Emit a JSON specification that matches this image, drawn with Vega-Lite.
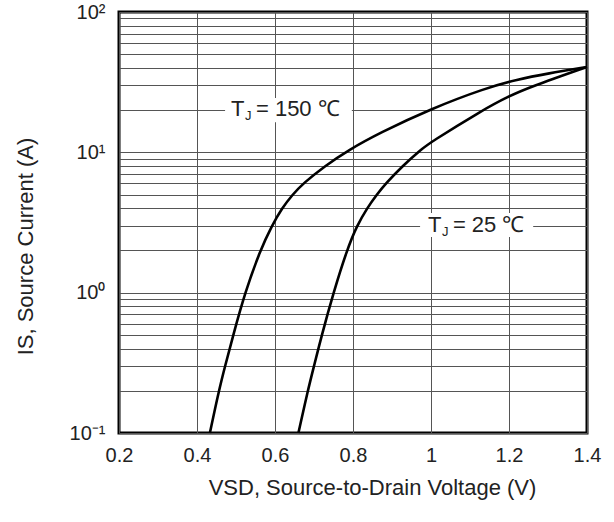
{
  "$schema": "https://vega.github.io/schema/vega-lite/v6.json",
  "width": 468,
  "height": 421,
  "autosize": {"type": "none"},
  "padding": {"left": 119, "top": 12, "right": 27, "bottom": 89},
  "background": "white",
  "view": {"stroke": "black", "strokeWidth": 3},
  "config": {"font": "Liberation Sans"},
  "datasets": {
    "curves": [
      {"V": 0.433, "I": 0.1, "T": "150"},
      {"V": 0.456, "I": 0.2, "T": "150"},
      {"V": 0.472, "I": 0.3, "T": "150"},
      {"V": 0.493, "I": 0.5, "T": "150"},
      {"V": 0.523, "I": 1.0, "T": "150"},
      {"V": 0.562, "I": 2.0, "T": "150"},
      {"V": 0.592, "I": 3.0, "T": "150"},
      {"V": 0.618, "I": 4.0, "T": "150"},
      {"V": 0.645, "I": 5.0, "T": "150"},
      {"V": 0.672, "I": 6.0, "T": "150"},
      {"V": 0.728, "I": 8.0, "T": "150"},
      {"V": 0.789, "I": 10.4, "T": "150"},
      {"V": 0.867, "I": 13.7, "T": "150"},
      {"V": 0.999, "I": 20.4, "T": "150"},
      {"V": 1.14, "I": 28.7, "T": "150"},
      {"V": 1.22, "I": 33.0, "T": "150"},
      {"V": 1.3, "I": 36.5, "T": "150"},
      {"V": 1.4, "I": 40.6, "T": "150"},
      {"V": 0.66, "I": 0.1, "T": "25"},
      {"V": 0.684, "I": 0.2, "T": "25"},
      {"V": 0.7, "I": 0.3, "T": "25"},
      {"V": 0.72, "I": 0.5, "T": "25"},
      {"V": 0.75, "I": 1.0, "T": "25"},
      {"V": 0.784, "I": 2.0, "T": "25"},
      {"V": 0.81, "I": 3.0, "T": "25"},
      {"V": 0.836, "I": 4.0, "T": "25"},
      {"V": 0.861, "I": 5.0, "T": "25"},
      {"V": 0.884, "I": 6.0, "T": "25"},
      {"V": 0.927, "I": 8.0, "T": "25"},
      {"V": 0.973, "I": 10.4, "T": "25"},
      {"V": 0.997, "I": 11.7, "T": "25"},
      {"V": 1.132, "I": 20.0, "T": "25"},
      {"V": 1.198, "I": 25.0, "T": "25"},
      {"V": 1.254, "I": 29.2, "T": "25"},
      {"V": 1.4, "I": 40.6, "T": "25"}
    ],
    "labels": [
      {"V": 0.487, "I": 20.3, "V1": 0.472, "V2": 0.797, "I1": 16.4, "I2": 24.4, "main": "T", "sub": "J", "rest": "= 150 ℃"},
      {"V": 0.992, "I": 3.03, "V1": 0.972, "V2": 1.262, "I1": 2.49, "I2": 3.7, "main": "T", "sub": "J", "rest": "= 25 ℃"}
    ]
  },
  "layer": [
    {
      "data": {"name": "labels"},
      "mark": {"type": "rect", "fill": "white"},
      "encoding": {
        "x": {"field": "V1", "type": "quantitative", "scale": {"domain": [0.2, 1.4], "nice": false, "zero": false},
          "axis": {"values": [0.2, 0.4, 0.6, 0.8, 1.0, 1.2, 1.4], "labelExpr": "toString(round(datum.value*10)/10)",
            "title": "VSD, Source-to-Drain Voltage (V)", "titleFontSize": 22, "titleFontWeight": "normal", "titleColor": "#222",
            "titlePadding": 12, "titleX": 253,
            "labelFontSize": 20, "labelColor": "#222", "labelPadding": 12, "ticks": false, "domain": false,
            "grid": true, "gridColor": "#555", "gridWidth": 1, "gridOpacity": 1, "labelFlush": false}},
        "x2": {"field": "V2"},
        "y": {"field": "I1", "type": "quantitative", "scale": {"type": "log", "domain": [0.1, 100], "nice": false},
          "axis": {"values": [0.1, 0.2, 0.3, 0.4, 0.5, 0.6, 0.7, 0.8, 0.9, 1, 2, 3, 4, 5, 6, 7, 8, 9, 10, 20, 30, 40, 50, 60, 70, 80, 90, 100],
            "labelExpr": "datum.value == 100 ? '10²' : datum.value == 10 ? '10¹' : datum.value == 1 ? '10⁰' : datum.value == 0.1 ? '10⁻¹' : ''",
            "labelOverlap": false, "labelFlush": false, "labelBound": false,
            "title": "IS, Source Current (A)", "titleFontSize": 22, "titleFontWeight": "normal", "titleColor": "#222",
            "titlePadding": 32, "titleY": 234,
            "labelFontSize": 20, "labelColor": "#222", "labelPadding": 14, "ticks": false, "domain": false,
            "grid": true, "gridColor": "#555", "gridWidth": 1, "gridOpacity": 1}},
        "y2": {"field": "I2"}
      }
    },
    {
      "data": {"name": "curves"},
      "mark": {"type": "line", "color": "black", "strokeWidth": 2.6, "interpolate": "basis"},
      "encoding": {
        "x": {"field": "V", "type": "quantitative"},
        "y": {"field": "I", "type": "quantitative"},
        "detail": {"field": "T"}
      }
    },
    {
      "data": {"name": "labels"},
      "mark": {"type": "text", "align": "left", "baseline": "middle", "fontSize": 22, "color": "#222"},
      "encoding": {
        "x": {"field": "V", "type": "quantitative"},
        "y": {"field": "I", "type": "quantitative"},
        "text": {"field": "main"}
      }
    },
    {
      "data": {"name": "labels"},
      "mark": {"type": "text", "align": "left", "baseline": "middle", "fontSize": 13, "dx": 14, "dy": 7, "color": "#222"},
      "encoding": {
        "x": {"field": "V", "type": "quantitative"},
        "y": {"field": "I", "type": "quantitative"},
        "text": {"field": "sub"}
      }
    },
    {
      "data": {"name": "labels"},
      "mark": {"type": "text", "align": "left", "baseline": "middle", "fontSize": 22, "dx": 25, "color": "#222"},
      "encoding": {
        "x": {"field": "V", "type": "quantitative"},
        "y": {"field": "I", "type": "quantitative"},
        "text": {"field": "rest"}
      }
    }
  ]
}
